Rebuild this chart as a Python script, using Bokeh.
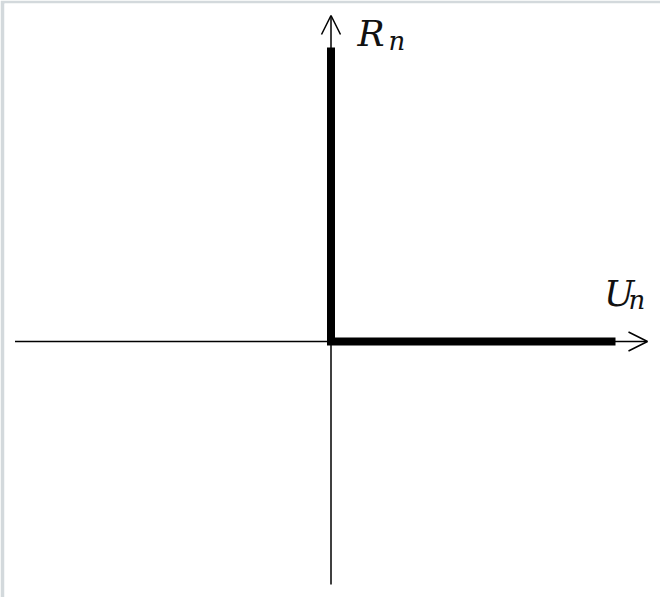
from bokeh.plotting import figure
from bokeh.models import Range1d, Arrow, OpenHead, ColumnDataSource
from bokeh.core.properties import value
from bokeh.embed import file_html
from bokeh.resources import INLINE

# Diagram values (origin at 0,0)
x_axis_extent = [-316.0, 316.5]     # horizontal axis: left end, arrow tip
y_axis_extent = [-243.0, 326.0]     # vertical axis: bottom end, arrow tip
thick_path_x = [0.0, 0.0, 284.5]    # thick L: top of vertical -> origin -> right end
thick_path_y = [294.0, 0.0, 0.0]
axis_names = ["R", "U"]
axis_subs = ["n", "n"]

p = figure(width=660, height=597, output_backend="svg", toolbar_location=None,
           x_range=Range1d(-326.5, 329.5), y_range=Range1d(-256, 338),
           min_border_left=4, min_border_top=3, min_border_right=0, min_border_bottom=0)
p.axis.visible = False
p.grid.visible = False
p.outline_line_color = None
p.background_fill_color = "white"
p.border_fill_color = "#d3d9dc"

# thin axes with open arrow heads
p.add_layout(Arrow(end=OpenHead(size=19, line_width=1.5, line_color="black"),
                   x_start=x_axis_extent[0], y_start=0,
                   x_end=x_axis_extent[1], y_end=0,
                   line_width=1.5, line_color="black"))
p.add_layout(Arrow(end=OpenHead(size=19, line_width=1.5, line_color="black"),
                   x_start=0, y_start=y_axis_extent[0],
                   x_end=0, y_end=y_axis_extent[1],
                   line_width=1.5, line_color="black"))

# thick L-shaped path
p.line(thick_path_x, thick_path_y, line_width=8, line_color="black",
       line_join="miter", line_cap="butt")

# labels: R_n near the top of the vertical axis, U_n above the right end of horizontal axis
main_src = ColumnDataSource(dict(
    x=[26.5, thick_path_x[2] - 11.5],
    y=[thick_path_y[0] + 14.0, 48.0],
    t=axis_names))
sub_src = ColumnDataSource(dict(
    x=[57.5, thick_path_x[2] + 13.0],
    y=[thick_path_y[0] + 7.0, 42.0],
    t=axis_subs))
p.text(x="x", y="y", text="t", source=main_src, text_font=value("DejaVu Serif"),
       text_font_style="italic", text_font_size="36px", text_color="#111111",
       text_baseline="alphabetic", text_align="left")
p.text(x="x", y="y", text="t", source=sub_src, text_font=value("DejaVu Serif"),
       text_font_style="italic", text_font_size="26px", text_color="#111111",
       text_baseline="alphabetic", text_align="left")

open("out.html", "w").write(file_html(p, INLINE))
